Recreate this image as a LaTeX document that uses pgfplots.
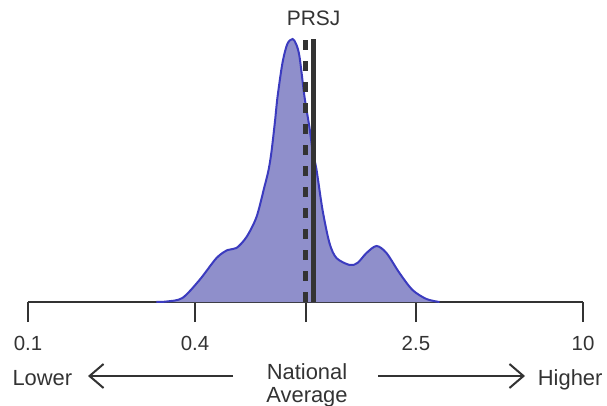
\documentclass[border=0pt]{standalone}
\usepackage{pgfplots}
\pgfplotsset{compat=1.18}
\usepackage{pgfplotstable}
\usepackage{fontspec}
\setmainfont{Liberation Sans}
\usetikzlibrary{arrows.meta}
\definecolor{fillc}{HTML}{8F8FCB}
\definecolor{linec}{HTML}{3B3BBF}
\definecolor{dk}{HTML}{333333}
\pgfplotstableread{
x y
0.290 0
0.316 0.5
0.360 4
0.415 22
0.478 44
0.524 52
0.564 54
0.613 65
0.666 85
0.711 115
0.736 132
0.754 150
0.776 180
0.793 205
0.826 239
0.860 258
0.898 263
0.925 258
0.952 245
0.992 205
1.033 175
1.060 152
1.096 132
1.152 92
1.220 59
1.293 44
1.442 37
1.539 39
1.659 49
1.803 56
1.958 49
2.181 29
2.431 12
2.729 3
3.040 0
}\dens
\newcommand{\lbl}{\fontsize{22}{26}\selectfont}
\newcommand{\tlbl}{\fontsize{20.5}{24}\selectfont}
\begin{document}
\begin{tikzpicture}
\useasboundingbox (-28bp,-104bp) rectangle (579bp,302bp);
\begin{axis}[
  at={(0,0)}, anchor=south west,
  scale only axis, width=555bp, height=263bp,
  xmode=log, xmin=0.1, xmax=10, ymin=0, ymax=263,
  axis x line=bottom, axis y line=none,
  axis line style={dk, line width=2bp, -},
  xtick={0.1,0.4,1,2.5,10}, xticklabels={0.1,0.4,,2.5,10},
  minor xtick={},
  tick align=outside, major tick length=20bp,
  tick style={dk, line width=2bp},
  xticklabel style={font=\tlbl, text=dk, yshift=-11bp},
  clip=false,
]
\addplot[fill=fillc, draw=none, smooth, tension=0.5] table {\dens} \closedcycle;
\addplot[linec, line width=2bp, smooth, tension=0.5] table {\dens};
\addplot[dk, line width=5bp, dash pattern=on 10bp off 11bp] coordinates {(1,0) (1,263)};
\addplot[dk, line width=4.5bp] coordinates {(1.07,0) (1.07,263)};
\node[font=\fontsize{21}{24}\selectfont, text=dk, anchor=base] at (axis cs:1.07,276.5) {PRSJ};
\end{axis}
\node[font=\lbl, text=dk, anchor=base west] at (-19bp,-83bp) {Lower};
\node[font=\lbl, text=dk, anchor=base east] at (578bp,-83bp) {Higher};
\node[font=\lbl, text=dk, anchor=base] at (279bp,-77bp) {National};
\node[font=\lbl, text=dk, anchor=base] at (279bp,-100.5bp) {Average};
\draw[dk, line width=2bp, -{Straight Barb[length=14bp,width=24bp,line width=2bp]}] (205bp,-74bp) -- (60bp,-74bp);
\draw[dk, line width=2bp, -{Straight Barb[length=14bp,width=24bp,line width=2bp]}] (350bp,-74bp) -- (497bp,-74bp);
\end{tikzpicture}
\end{document}
